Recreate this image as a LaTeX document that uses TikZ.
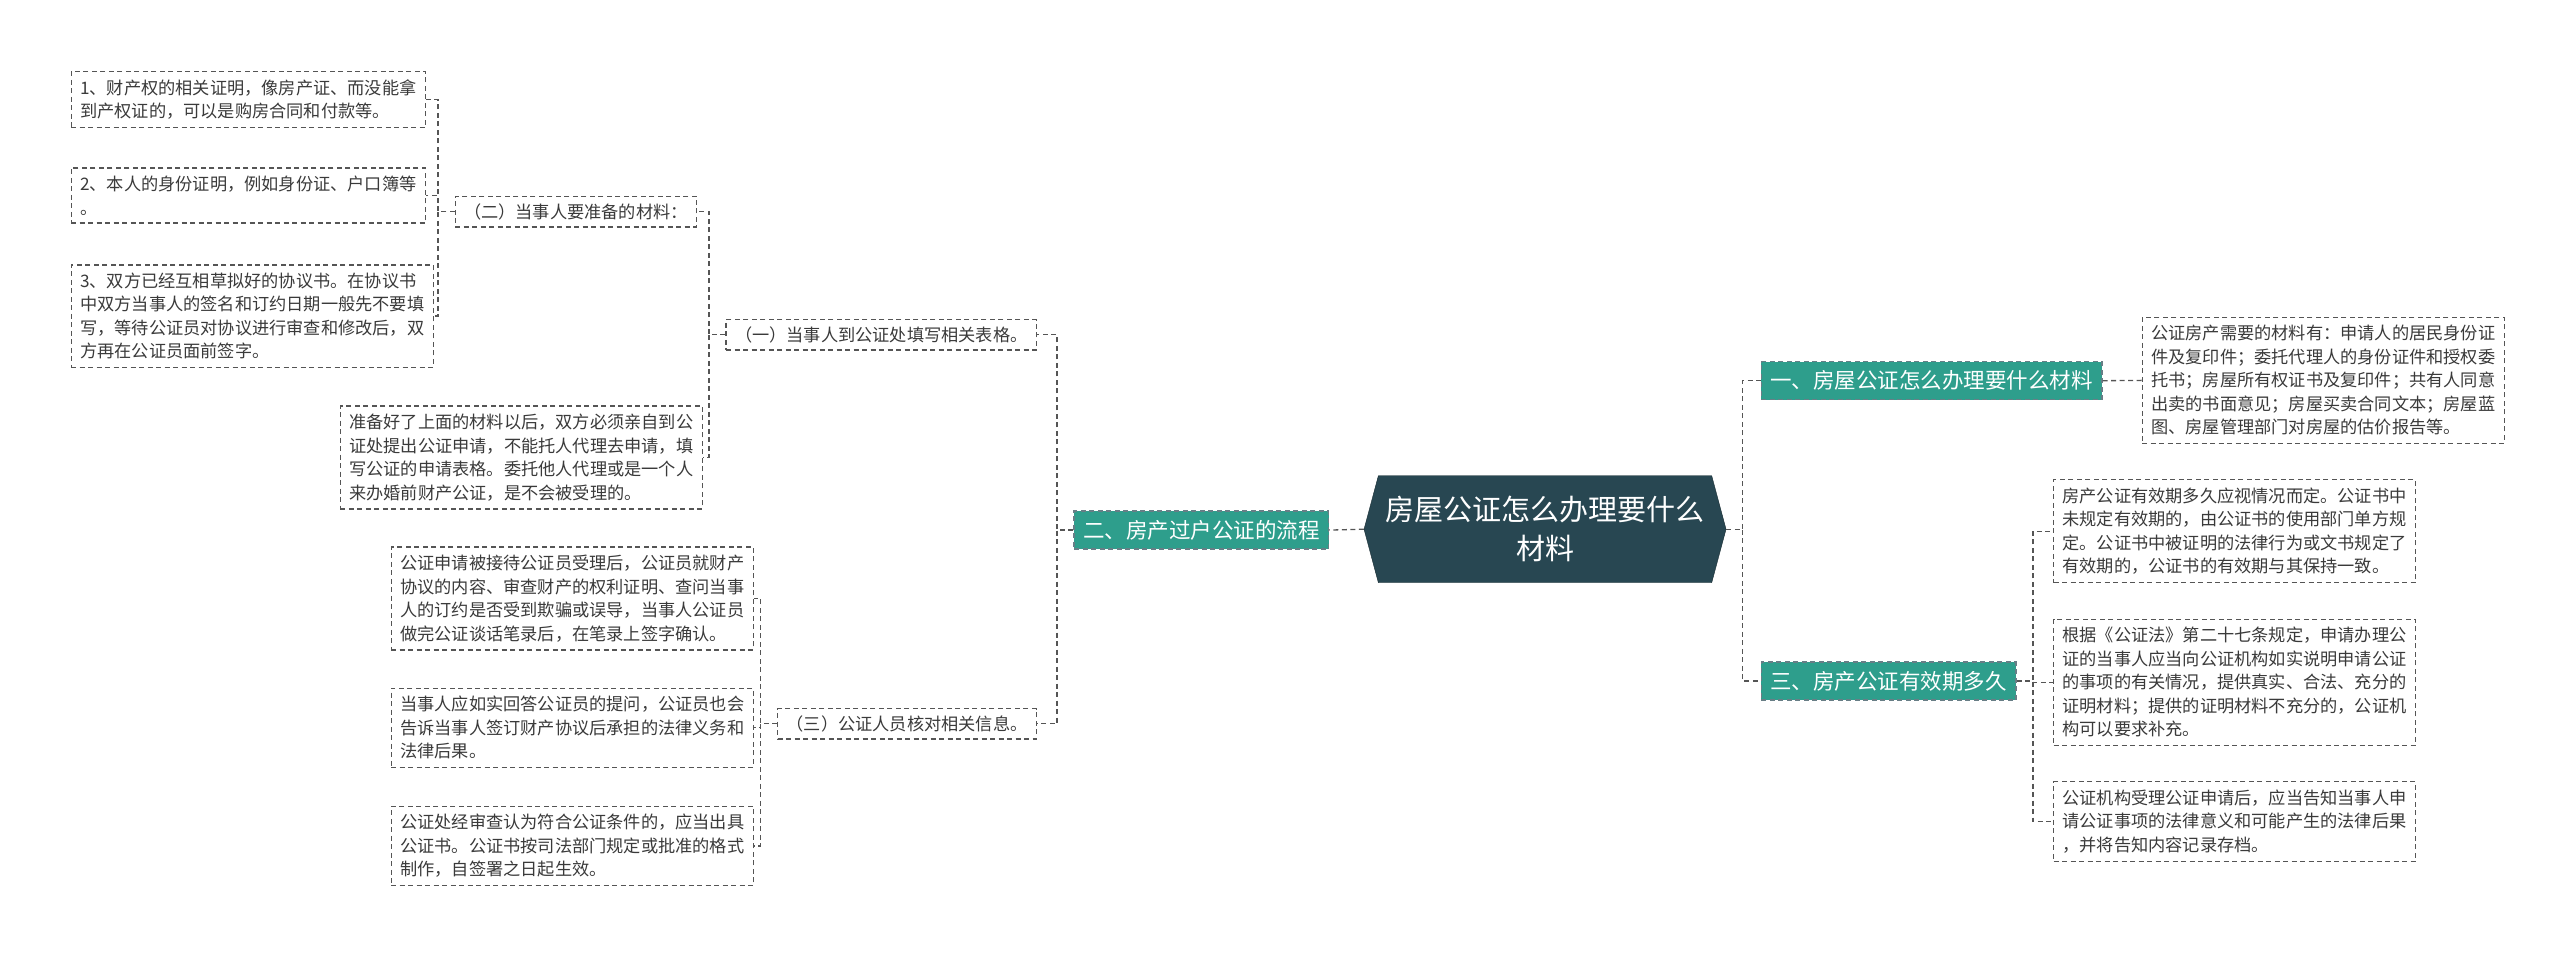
\documentclass[tikz,border=0pt]{standalone}
\usepackage{fontspec}
\setmainfont{Noto Sans CJK SC}
\usetikzlibrary{shapes.symbols}
\definecolor{rootcol}{HTML}{284752}
\definecolor{teal}{HTML}{2E9E8C}
\definecolor{txtcol}{HTML}{3A3A3A}
\definecolor{linecol}{HTML}{555555}
\tikzset{
  leaf/.style={draw=linecol, dash pattern=on 5pt off 3.5pt, line width=1.3pt, fill=white, text=txtcol,
    align=left, anchor=north west, inner xsep=9pt, inner ysep=8pt,
    font=\fontsize{17.2}{23.5}\selectfont},
  sub/.style={leaf, anchor=west, inner ysep=7pt},
  branch/.style={draw=rootcol!70, dash pattern=on 5pt off 3.5pt, line width=1.3pt, fill=teal, text=white,
    anchor=west, inner xsep=9pt, inner ysep=9pt, font=\fontsize{21.5}{26}\selectfont},
  rootbox/.style={signal, signal to=east and west, signal pointer angle=150,
    fill=rootcol, draw=rootcol!60!black, text=white, align=center,
    font=\fontsize{29}{39}\selectfont, minimum width=362pt, minimum height=107pt},
  link/.style={draw=linecol, dash pattern=on 5pt off 3.5pt, line width=1.3pt}
}
\begin{document}
\begin{tikzpicture}[x=1.641pt, y=-1.641pt]
\useasboundingbox (0,0) rectangle (1560,585);
% centre
\node[rootbox] (root) at (941.5,322.5) {房屋公证怎么办理要什么\\材料};
% right side
\node[branch] (b1) at (1073,232) {一、房屋公证怎么办理要什么材料};
\node[branch] (b3) at (1073,415) {三、房产公证有效期多久};
\node[leaf] (r1) at (1305,193) {公证房产需要的材料有：申请人的居民身份证\\件及复印件；委托代理人的身份证件和授权委\\托书；房屋所有权证书及复印件；共有人同意\\出卖的书面意见；房屋买卖合同文本；房屋蓝\\图、房屋管理部门对房屋的估价报告等。};
\node[leaf] (r2) at (1251,292) {房产公证有效期多久应视情况而定。公证书中\\未规定有效期的，由公证书的使用部门单方规\\定。公证书中被证明的法律行为或文书规定了\\有效期的，公证书的有效期与其保持一致。};
\node[leaf] (r3) at (1251,377) {根据《公证法》第二十七条规定，申请办理公\\证的当事人应当向公证机构如实说明申请公证\\的事项的有关情况，提供真实、合法、充分的\\证明材料；提供的证明材料不充分的，公证机\\构可以要求补充。};
\node[leaf] (r4) at (1251,476) {公证机构受理公证申请后，应当告知当事人申\\请公证事项的法律意义和可能产生的法律后果\\，并将告知内容记录存档。};
% left side
\node[branch, anchor=east] (b2) at (810,323) {二、房产过户公证的流程};
\node[sub, anchor=east] (s1) at (632,204) {（一）当事人到公证处填写相关表格。};
\node[sub, anchor=east] (s3) at (632,441) {（三）公证人员核对相关信息。};
\node[sub, anchor=east] (s2) at (425,129) {（二）当事人要准备的材料：};
\node[leaf] (l1) at (43,43) {1、财产权的相关证明，像房产证、而没能拿\\到产权证的，可以是购房合同和付款等。};
\node[leaf] (l2) at (43,102) {2、本人的身份证明，例如身份证、户口簿等\\。};
\node[leaf] (l3) at (43,161) {3、双方已经互相草拟好的协议书。在协议书\\中双方当事人的签名和订约日期一般先不要填\\写，等待公证员对协议进行审查和修改后，双\\方再在公证员面前签字。};
\node[leaf] (l4) at (207,247) {准备好了上面的材料以后，双方必须亲自到公\\证处提出公证申请，不能托人代理去申请，填\\写公证的申请表格。委托他人代理或是一个人\\来办婚前财产公证，是不会被受理的。};
\node[leaf] (l5) at (238,333) {公证申请被接待公证员受理后，公证员就财产\\协议的内容、审查财产的权利证明、查问当事\\人的订约是否受到欺骗或误导，当事人公证员\\做完公证谈话笔录后，在笔录上签字确认。};
\node[leaf] (l6) at (238,419) {当事人应如实回答公证员的提问，公证员也会\\告诉当事人签订财产协议后承担的法律义务和\\法律后果。};
\node[leaf] (l7) at (238,491) {公证处经审查认为符合公证条件的，应当出具\\公证书。公证书按司法部门规定或批准的格式\\制作，自签署之日起生效。};
% connectors
\foreach \c in {b1,b3} \draw[link] (root.east) -- ++(10,0) |- (\c.west);
\draw[link] (b1.east) -- (r1.west);
\foreach \c in {r2,r3,r4} \draw[link] (b3.east) -- ++(10,0) |- (\c.west);
\draw[link] (root.west) -- (b2.east);
\foreach \c in {s1,s3} \draw[link] (b2.west) -- ++(-10,0) |- (\c.east);
\foreach \c in {s2,l4} \draw[link] (s1.west) -- ++(-10,0) |- (\c.east);
\foreach \c in {l1,l2,l3} \draw[link] (s2.west) -- ++(-10,0) |- (\c.east);
\foreach \c in {l5,l6,l7} \draw[link] (s3.west) -- ++(-10,0) |- (\c.east);
\end{tikzpicture}
\end{document}
